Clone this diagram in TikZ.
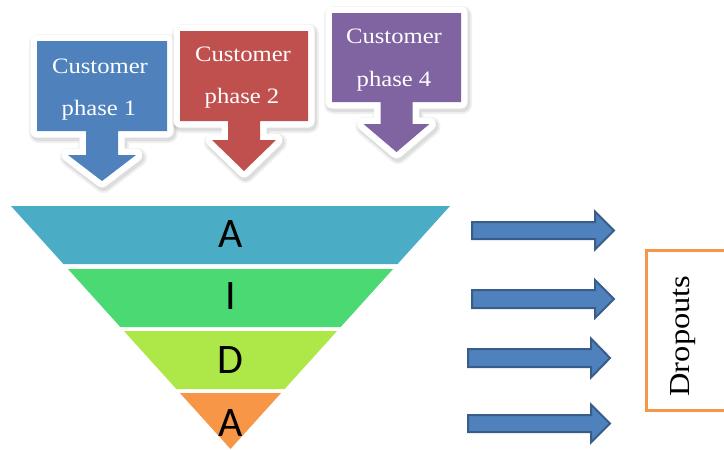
\documentclass[tikz,border=0pt]{standalone}
\usepackage{fontspec}
\setmainfont{Liberation Serif}[FakeStretch=1.12]
\newfontfamily\aidafont{Carlito}
\definecolor{cblue}{HTML}{4F81BD}
\definecolor{cred}{HTML}{C0504D}
\definecolor{cpurple}{HTML}{8064A2}
\definecolor{lteal}{HTML}{4BACC6}
\definecolor{lgreen}{RGB}{74,217,115}
\definecolor{llime}{RGB}{174,232,72}
\definecolor{lorange}{HTML}{F79646}
\definecolor{arrfill}{HTML}{4F81BD}
\definecolor{arrline}{HTML}{385D8A}
% #1 colour, #2 x1, #3 y1, #4 x2, #5 y2, #6 stem half, #7 head half, #8 head top, #9 tip
\newcommand\mycallout[9]{%
  \pgfmathsetmacro\cc{(#2+#4)/2}%
  \def\cpath{(#2,#3) -- (#4,#3) -- (#4,#5) -- ({\cc+#6},#5) -- ({\cc+#6},#8) -- ({\cc+#7},#8) -- (\cc,#9) -- ({\cc-#7},#8) -- ({\cc-#6},#8) -- ({\cc-#6},#5) -- (#2,#5) -- cycle}%
  \draw[black, opacity=0.06, line width=19, line join=round, shift={(1.5,2.5)}] \cpath;
  \draw[black, opacity=0.08, line width=15, line join=round, shift={(1.5,2.5)}] \cpath;
  \draw[white, line width=13, line join=round] \cpath;
  \fill[#1] \cpath;
}
% #1 x1, #2 x2, #3 yc, #4 shaft half, #5 head half, #6 head x
\newcommand\myblockarrow[6]{%
  \filldraw[fill=arrfill, draw=arrline, line width=2, line join=miter]
    (#1,{#3-#4}) -- (#6,{#3-#4}) -- (#6,{#3-#5}) -- (#2,#3) -- (#6,{#3+#5}) -- (#6,{#3+#4}) -- (#1,{#3+#4}) -- cycle;
}
\tikzset{
  ctext/.style={text=white, font=\fontsize{22}{22}\selectfont, anchor=base, inner sep=0pt},
  aida/.style={text=black, font=\aidafont\fontsize{42}{42}\selectfont, anchor=base, inner sep=0pt},
}
\begin{document}
\begin{tikzpicture}[x=1pt, y=-1pt]
\useasboundingbox (0,0) rectangle (724,450);
\clip (0,0) rectangle (724,450);
% callouts
\mycallout{cblue}{37}{41}{167}{131}{16}{34}{155}{181}
\mycallout{cred}{180}{31}{308}{121}{16}{32}{140}{171}
\mycallout{cpurple}{332}{13}{461}{102}{16}{33}{124}{152}
\node[ctext] (c1a) at (100,73) {Customer};
\node[ctext] (c1b) at (99,115) {phase 1};
\node[ctext] (c2a) at (243,61) {Customer};
\node[ctext] (c2b) at (242,103) {phase 2};
\node[ctext] (c4a) at (394,43) {Customer};
\node[ctext] (c4b) at (394,86) {phase 4};
% funnel
\def\hw#1{(0.90329*(449-#1))}
\fill[lteal] ({230.5-\hw{206}},206) -- ({230.5+\hw{206}},206) -- ({230.5+\hw{264}},264) -- ({230.5-\hw{264}},264) -- cycle;
\fill[lgreen] ({230.5-\hw{269}},269) -- ({230.5+\hw{269}},269) -- ({230.5+\hw{327}},327) -- ({230.5-\hw{327}},327) -- cycle;
\fill[llime] ({230.5-\hw{331}},331) -- ({230.5+\hw{331}},331) -- ({230.5+\hw{389}},389) -- ({230.5-\hw{389}},389) -- cycle;
\fill[lorange] ({230.5-\hw{393}},393) -- ({230.5+\hw{393}},393) -- (230.5,449) -- cycle;
\node[aida] (la1) at (230.5,247) {A};
\node[aida] (li) at (230.5,309) {I};
\node[aida] (ld) at (230.5,373) {D};
\node[aida] (la2) at (230.5,436) {A};
% block arrows
\myblockarrow{472}{614}{230.5}{8.5}{19}{595}
\myblockarrow{472}{614}{299}{9}{19}{595}
\myblockarrow{468}{610}{358}{9}{19.5}{591}
\myblockarrow{468}{610}{423.5}{8.5}{19}{591}
% dropouts
\draw[lorange, line width=3] (646,250) rectangle (745,410);
\node[rotate=90, font=\fontsize{29}{29}\selectfont, inner sep=0pt] (drop) at (683,336) {Dropouts};
\end{tikzpicture}
\end{document}
